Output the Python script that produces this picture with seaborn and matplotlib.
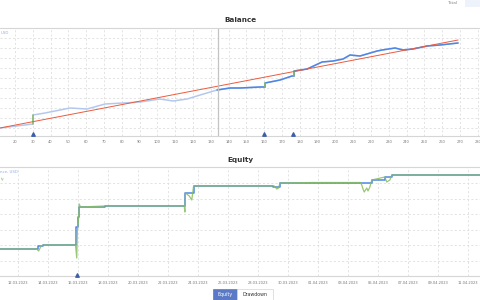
import matplotlib
matplotlib.use("Agg")
import matplotlib.pyplot as plt
import matplotlib.dates as mdates
from matplotlib.patches import Rectangle
import pandas as pd
import seaborn as sns

# Balance (top chart): deal number vs balance
bal_x = [11.6, 30.1, 30.1, 36.9, 45.3, 50.9, 60.5, 70.6, 80.7, 90.3, 101.5, 108.8,
         116.7, 124.0, 133.5, 140.8, 146.4, 157.7, 160.5, 160.5, 168.9, 175.6, 176.8,
         176.8, 184.1, 192.5, 198.7, 204.3, 208.2, 213.8, 223.4, 226.2, 233.5, 238.0,
         243.6, 251.5, 258.8, 268.9]
bal_y = [8, 12, 21, 23, 26, 28, 27, 32, 33, 34, 37, 35,
         37, 41, 46, 48, 48, 49, 49, 53, 56, 60, 60,
         65, 67, 74, 75, 77, 81, 80, 85, 86, 88, 86,
         87, 90, 91, 93]
trend_x = [11.6, 268.9]
trend_y = [8, 96]
jumps = [(30.1, 12, 21), (160.5, 49, 53), (176.8, 60, 65)]
bal_marks = [30, 160, 176]
balance_ticks = list(range(20, 290, 10))
cursor_x = 134.1

# Equity (bottom chart)
eq_bal_t = ["2023-03-10 19:00", "2023-03-13 08:00", "2023-03-13 16:00", "2023-03-15 21:00",
            "2023-03-16 00:00", "2023-03-16 02:00", "2023-03-17 19:00", "2023-03-23 03:00",
            "2023-03-23 17:00", "2023-03-29 00:00", "2023-03-29 11:00", "2023-03-31 16:00",
            "2023-04-04 14:00", "2023-04-05 11:00", "2023-04-05 22:00", "2023-04-11 20:00"]
eq_bal_v = [27, 30, 31, 49, 59, 69, 70, 83, 90, 89, 93, 93.5, 96, 99, 101, 101]
eq_t = ["2023-03-10 19:00", "2023-03-13 06:00", "2023-03-13 09:00", "2023-03-13 13:00",
        "2023-03-13 16:00", "2023-03-15 20:00", "2023-03-15 22:00", "2023-03-15 23:00",
        "2023-03-16 01:00", "2023-03-16 02:00", "2023-03-16 04:00", "2023-03-17 19:00",
        "2023-03-23 02:00", "2023-03-23 03:00", "2023-03-23 04:00", "2023-03-23 10:00",
        "2023-03-23 14:00", "2023-03-23 17:00", "2023-03-29 02:00", "2023-03-29 06:00",
        "2023-03-29 09:00", "2023-03-29 11:00", "2023-03-31 16:00", "2023-04-03 20:00",
        "2023-04-03 22:00", "2023-04-04 00:00", "2023-04-04 02:00", "2023-04-04 06:00",
        "2023-04-04 08:00", "2023-04-04 11:00", "2023-04-04 14:00", "2023-04-05 11:00",
        "2023-04-05 14:00", "2023-04-05 19:00", "2023-04-05 22:00", "2023-04-11 20:00"]
eq_v = [27, 27, 25, 30, 31, 31, 18, 45, 58, 72, 69, 70,
        70, 64, 83, 80, 76, 90, 90, 87, 88, 93, 93.5, 93.5,
        91, 87, 84, 88, 85, 89, 96, 99, 94, 96, 101, 101]
eq_mark = "2023-03-15 22:00"
date_ticks = pd.date_range("2023-03-12", "2023-04-11", freq="2D")

# legend fragments that are visible at the cropped left edge
bal_legend = "USD"
eq_legend_bal = "nce, USD"
eq_legend_eq = "ty"

BLUE = "#4f86e6"
LIGHT = "#b4c8ee"
GREEN = "#86bd5e"
GRID = "#dedede"
MARK = "#3f5ea8"

sns.set_style("white")
plt.rcParams["font.family"] = ["DejaVu Sans"]

fig = plt.figure(figsize=(4.8, 3.0), dpi=100)
fig.patch.set_facecolor("white")

def style(ax):
    for s in ["left", "right"]:
        ax.spines[s].set_visible(False)
    for s in ["top", "bottom"]:
        ax.spines[s].set_color("#d6d6d6")
        ax.spines[s].set_linewidth(0.8)
    ax.grid(True, color=GRID, linestyle=(0, (2.5, 2.5)), linewidth=0.6)
    ax.set_axisbelow(True)
    ax.tick_params(axis="x", length=0, labelsize=2.6, colors="#777777", pad=3.5)
    ax.tick_params(axis="y", length=0, labelleft=False)
    ax.set_xlabel("")
    ax.set_ylabel("")

# ---- Balance ----
ax1 = fig.add_axes([0, 1 - 135.5 / 300, 1, 107.8 / 300])
bal = pd.DataFrame({"deal": bal_x, "balance": bal_y})
sns.lineplot(data=bal, x="deal", y="balance", ax=ax1, color=LIGHT, linewidth=1.1,
             estimator=None, sort=False)
right = bal[bal["deal"] >= 133.5]
sns.lineplot(data=right, x="deal", y="balance", ax=ax1, color=BLUE, linewidth=1.1,
             estimator=None, sort=False)
for x, y0, y1 in jumps:
    ax1.plot([x, x], [y0, y1], color=GREEN, linewidth=1.1)
sns.lineplot(x=trend_x, y=trend_y, ax=ax1, color="#ee5a3c", linewidth=0.7)
ax1.axvline(cursor_x, color="#c4c4c4", linewidth=0.9)
ax1.scatter(bal_marks, [1.6] * len(bal_marks), marker="^", s=6, color=MARK,
            zorder=5, clip_on=False)
ax1.set_xlim(11.6, 281.2)
ax1.set_ylim(0.5, 108.3)
ax1.set_xticks(balance_ticks)
ax1.set_yticks([8.3 + 10 * k for k in range(10)])
style(ax1)
ax1.text(0.5 / 480, 0.955, bal_legend, transform=ax1.transAxes, ha="left",
         va="center", fontsize=2.8, color="#93aee6")
fig.text(0.5, 1 - 20.5 / 300, "Balance", ha="center", va="center", fontsize=5.2,
         fontweight="bold", color="#333333")

# ---- Equity ----
ax2 = fig.add_axes([0, 1 - 276 / 300, 1, 109 / 300])
eqb = pd.DataFrame({"time": pd.to_datetime(eq_bal_t), "value": eq_bal_v})
eqe = pd.DataFrame({"time": pd.to_datetime(eq_t), "value": eq_v})
sns.lineplot(data=eqb, x="time", y="value", ax=ax2, color=BLUE, linewidth=1.1,
             drawstyle="steps-post", estimator=None, sort=False)
sns.lineplot(data=eqe, x="time", y="value", ax=ax2, color=GREEN, linewidth=0.9,
             alpha=0.85, estimator=None, sort=False)
ax2.scatter([pd.Timestamp(eq_mark)], [1.5], marker="^", s=6, color=MARK,
            zorder=5, clip_on=False)
ax2.set_xlim(pd.Timestamp("2023-03-10 19:12"), pd.Timestamp("2023-04-11 19:12"))
ax2.set_ylim(0, 109)
ax2.set_xticks(date_ticks)
ax2.xaxis.set_major_formatter(mdates.DateFormatter("%d.%m.%Y"))
ax2.set_yticks([15.5 * k for k in range(1, 7)])
style(ax2)
ax2.text(0.5 / 480, 0.955, eq_legend_bal, transform=ax2.transAxes, ha="left",
         va="center", fontsize=2.8, color="#93aee6")
ax2.text(0.5 / 480, 0.89, eq_legend_eq, transform=ax2.transAxes, ha="left",
         va="center", fontsize=2.8, color="#8cc46a")
fig.text(0.5, 1 - 160 / 300, "Equity", ha="center", va="center", fontsize=5.2,
         fontweight="bold", color="#333333")

# ---- buttons and header ----
fig.patches.append(Rectangle((213 / 480, 0), 24 / 480, 11 / 300, transform=fig.transFigure,
                             facecolor="#5a79c6", edgecolor="#5a79c6", linewidth=0.5))
fig.patches.append(Rectangle((237 / 480, 0), 36 / 480, 11 / 300, transform=fig.transFigure,
                             facecolor="white", edgecolor="#d4d4d4", linewidth=0.5))
fig.text(225 / 480, 5.5 / 300, "Equity", ha="center", va="center", fontsize=3.4,
         color="white")
fig.text(255 / 480, 5.5 / 300, "Drawdown", ha="center", va="center", fontsize=3.4,
         color="#333333")
fig.patches.append(Rectangle((465 / 480, 1 - 7 / 300), 15 / 480, 7 / 300,
                             transform=fig.transFigure, facecolor="#eef2fa",
                             edgecolor="none"))
fig.text(452 / 480, 1 - 2.5 / 300, "Total", ha="center", va="center", fontsize=3.2,
         color="#888888")

fig.savefig("out.png", dpi=100, facecolor="white")
